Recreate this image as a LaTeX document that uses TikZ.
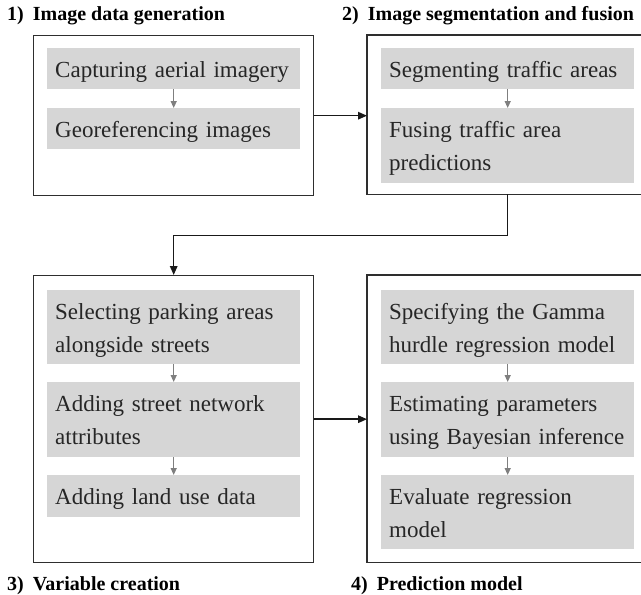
\documentclass[tikz,border=0pt]{standalone}
\usepackage{fontspec}
\setmainfont{Liberation Serif}
\usetikzlibrary{arrows.meta,calc}
\definecolor{greyfill}{HTML}{D6D6D6}
\definecolor{greyarrow}{HTML}{7F7F7F}
\definecolor{boxline}{HTML}{2E2E2E}
\definecolor{txt}{HTML}{262626}
\begin{document}
\begin{tikzpicture}[x=1pt,y=-1pt,
  outer/.style={inner sep=0pt, anchor=north west, minimum width=#1},
  outerline/.style={draw=boxline, line width=1.4pt},
  stepbox/.style={fill=greyfill, anchor=north west, inner xsep=8pt, inner ysep=0pt,
    text width=237pt, align=left, font=\fontsize{23}{33}\selectfont, text=txt,
    text height=29pt, text depth=#1},
  stepbox/.default=12pt,
  smallarrow/.style={draw=greyarrow, line width=1.3pt, -{Triangle[length=7pt,width=6pt]}},
  mainarrow/.style={draw=black!90, line width=1.5pt, -{Triangle[length=9pt,width=7.5pt]}},
  title/.style={font=\fontsize{20}{24}\selectfont\bfseries, anchor=base west, inner sep=0pt}]
\useasboundingbox (0,0) rectangle (641,595);

% titles
\node[title] (t1) at (7,20) {1)\hspace{9pt}Image data generation};
\node[title] (t2) at (342,20) {2)\hspace{9pt}Image segmentation and fusion};
\node[title] (t3) at (7,590) {3)\hspace{9pt}Variable creation};
\node[title] (t4) at (351,590) {4)\hspace{9pt}Prediction model};

% outer boxes
\node[outer=280pt, minimum height=160pt, outerline] (b1) at (33,35) {};
\node[outer=274pt, minimum height=159pt] (b2) at (367,35) {};
\draw[outerline] (b2.north east) -- (b2.north west) -- (b2.south west) -- (b2.south east);
\node[outer=280pt, minimum height=287pt, outerline] (b3) at (33,275) {};
\node[outer=274pt, minimum height=287pt] (b4) at (367,275) {};
\draw[outerline] (b4.north east) -- (b4.north west) -- (b4.south west) -- (b4.south east);

% box 1
\node[stepbox] (g1a) at (47,48) {Capturing aerial imagery};
\node[stepbox] (g1b) at (47,108) {Georeferencing images};
\draw[smallarrow] (g1a) -- (g1b);

% box 2
\node[stepbox] (g2a) at (381,48) {Segmenting traffic areas};
\node[stepbox=46pt] (g2b) at (381,108) {Fusing traffic area\\predictions};
\draw[smallarrow] (g2a) -- (g2b);

% box 3
\node[stepbox=45pt] (g3a) at (47,290) {Selecting parking areas\\alongside streets};
\node[stepbox=46pt] (g3b) at (47,382) {Adding street network\\attributes};
\node[stepbox=13pt] (g3c) at (47,475) {Adding land use data};
\draw[smallarrow] (g3a) -- (g3b);
\draw[smallarrow] (g3b) -- (g3c);

% box 4
\node[stepbox=45pt] (g4a) at (381,290) {Specifying the Gamma\\hurdle regression model};
\node[stepbox=46pt] (g4b) at (381,382) {Estimating parameters\\using Bayesian inference};
\node[stepbox=45pt] (g4c) at (381,475) {Evaluate regression\\model};
\draw[smallarrow] (g4a) -- (g4b);
\draw[smallarrow] (g4b) -- (g4c);

% main connectors
\draw[mainarrow] (b1.east) -- (b1.east -| b2.west);
\draw[mainarrow] (g2b.south |- b2.south) -- ++(0,41) -| (b3.north);
\draw[mainarrow] (b3.east) -- (b3.east -| b4.west);
\end{tikzpicture}
\end{document}
